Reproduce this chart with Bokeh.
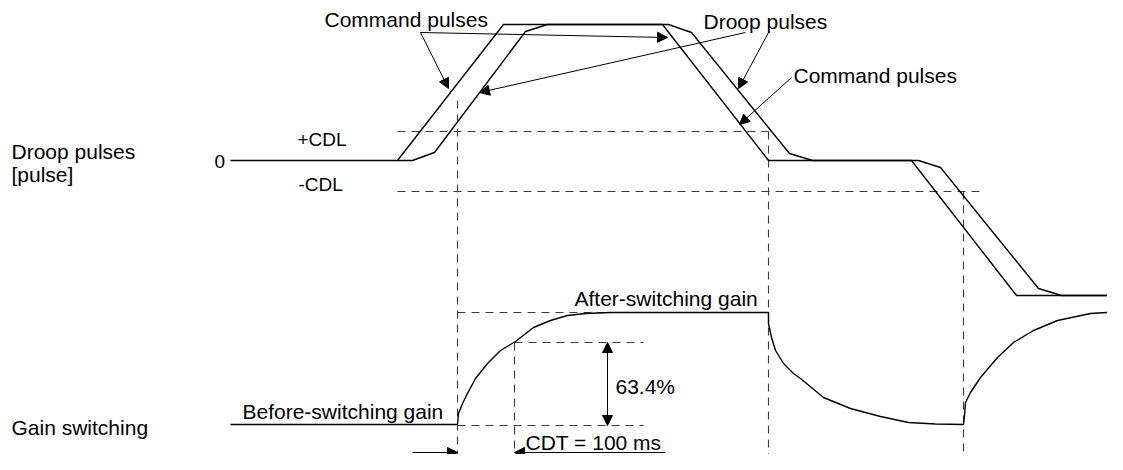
from bokeh.plotting import figure
from bokeh.models import Range1d, Arrow, NormalHead, ColumnDataSource
from bokeh.core.properties import value
from bokeh.embed import file_html
from bokeh.resources import INLINE

# ---- diagram data (time axis in diagram units, level axis downward) ----
cmd_t = [230, 397, 503, 662, 768, 911, 1016, 1123]
cmd_level = [160, 160, 24, 24, 160, 160, 295, 295]

droop_t = [397, 412, 434, 525, 547, 668, 691, 789, 812, 918, 940, 1038, 1061, 1123]
droop_level = [160, 160, 152, 31, 24, 24, 32, 153, 160, 160, 167, 288, 295, 295]

gain_t = [230, 457, 458, 462, 467, 475, 487, 500, 515, 533, 550, 567, 585, 610,
          768, 768, 771, 775, 783, 793, 800, 823, 850, 880, 908, 935, 963,
          964, 965, 970, 980, 997, 1013, 1033, 1057, 1090, 1121]
gain_level = [424, 424, 413, 403, 393, 378, 363, 350, 341, 327, 320, 315, 313, 312,
              312, 323, 337, 350, 363, 373, 378, 397, 408, 416, 422, 423.5, 424,
              415, 402, 392, 377, 357, 342, 330, 320, 313, 311]

# reference (dashed) lines
ref_x0 = [397, 397, 457, 768, 963, 514, 457, 514, 457]
ref_x1 = [768, 979, 457, 768, 963, 514, 605, 643, 643]
ref_y0 = [131, 191, 100, 131, 191, 342, 312, 342, 425]
ref_y1 = [131, 191, 475, 475, 475, 475, 312, 342, 425]

# leader arrows (start -> tip)
arr_x0 = [420, 420, 745, 768, 791, 412, 665]
arr_y0 = [32, 32, 32, 32, 77, 452, 452]
arr_x1 = [448, 667, 479, 738, 739, 457, 514]
arr_y1 = [88, 37, 92, 88, 124, 452, 452]

# 63.4 % double arrow
dbl_x = 607
dbl_y0 = 342
dbl_y1 = 425

labels = ["Command pulses", "Droop pulses", "Command pulses", "+CDL", "-CDL", "0",
          "Droop pulses", "[pulse]", "Gain switching", "Before-switching gain",
          "After-switching gain", "63.4%", "CDT = 100 ms"]
label_x = [324, 703, 793, 297, 298, 214, 11, 11, 11, 242, 574, 615, 525]
label_y = [25, 27, 81, 145, 190, 167, 157, 180, 433, 417, 304, 392, 448]
label_size = ["21px", "21px", "21px", "19px", "19px", "19px", "21px", "21px",
              "21px", "21px", "21px", "21px", "21px"]

# ---- figure ----
p = figure(width=1107, height=454, output_backend="svg", toolbar_location=None,
           x_range=Range1d(0, 1107), y_range=Range1d(454, 0), min_border=0)
p.xaxis.visible = False
p.yaxis.visible = False
p.xgrid.visible = False
p.ygrid.visible = False
p.outline_line_color = None
p.background_fill_color = "white"
p.border_fill_color = "white"

p.segment(x0=ref_x0, x1=ref_x1, y0=ref_y0, y1=ref_y1, line_color="#3a3a3a",
          line_width=1.1, line_dash="8 6")

p.line(cmd_t, cmd_level, line_color="black", line_width=1.4)
p.line(droop_t, droop_level, line_color="black", line_width=1.4)
p.line(gain_t, gain_level, line_color="black", line_width=1.4)

for x0, y0, x1, y1 in zip(arr_x0, arr_y0, arr_x1, arr_y1):
    p.add_layout(Arrow(x_start=x0, y_start=y0, x_end=x1, y_end=y1,
                       line_color="black", line_width=1,
                       end=NormalHead(size=10, fill_color="black", line_color="black",
                                      line_width=1)))

p.add_layout(Arrow(x_start=dbl_x, y_start=dbl_y0, x_end=dbl_x, y_end=dbl_y1,
                   line_color="black", line_width=1,
                   start=NormalHead(size=10, fill_color="black", line_color="black", line_width=1),
                   end=NormalHead(size=10, fill_color="black", line_color="black", line_width=1)))

src = ColumnDataSource(dict(x=label_x, y=[v - 6 for v in label_y], text=labels, size=label_size))
p.text(x="x", y="y", text="text", source=src, text_font=value("Liberation Sans"),
       text_font_size="size", text_color="#000000", text_baseline="alphabetic",
       text_align="left")

open("out.html", "w").write(file_html(p, INLINE))
